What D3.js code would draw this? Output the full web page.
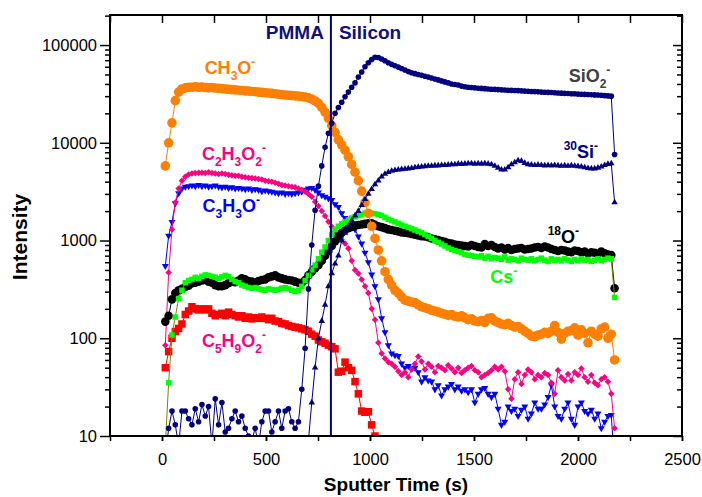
<!DOCTYPE html>
<html><head><meta charset="utf-8">
<script src="https://cdn.jsdelivr.net/npm/d3@7"></script>
<style>body{margin:0;background:#fff;} svg{display:block;font-family:"Liberation Sans",Arial,sans-serif;}</style>
</head><body><svg id="c" width="702" height="497"></svg>
<script>
// Sputter time (s)
const time = [16,32,48,64,80,96,112,128,144,160,176,192,208,224,240,256,272,288,304,320,336,352,368,384,400,416,432,448,464,480,496,512,528,544,560,576,592,608,624,640,656,672,688,704,720,736,752,768,784,800,816,832,848,864,880,896,912,928,944,960,976,992,1008,1024,1040,1056,1072,1088,1104,1120,1136,1152,1168,1184,1200,1216,1232,1248,1264,1280,1296,1312,1328,1344,1360,1376,1392,1408,1424,1440,1456,1472,1488,1504,1520,1536,1552,1568,1584,1600,1616,1632,1648,1664,1680,1696,1712,1728,1744,1760,1776,1792,1808,1824,1840,1856,1872,1888,1904,1920,1936,1952,1968,1984,2000,2016,2032,2048,2064,2080,2096,2112,2128,2144,2160,2176];

const ch3o = [5800,10000,16000,27000,33000,35500,36500,37000,37000,37500,
37000,37200,36800,36500,36800,36300,36000,35800,35500,35300,
35000,34800,34500,34300,34000,33800,33500,33300,33000,32800,
32500,32300,32000,31700,31400,31100,30800,30600,30400,30200,
30000,29800,29400,28800,28000,26800,25300,23000,20500,17800,
15000,12800,10700,9500,8400,7200,6000,5000,4100,3200,
2450,1900,1400,1050,800,620,480,400,350,310,
290,265,245,240,235,232,220,210,205,200,
193,190,185,180,176,172,175,168,165,170,
162,155,158,150,148,152,145,160,162,150,
145,140,138,142,135,130,132,125,118,112,
105,104,108,110,115,112,118,135,115,98,
112,118,120,128,108,122,112,90,118,110,
105,125,130,100,110,60];

const sio2 = [6,12,18,13,8,18,18,15,13,19,
14,21,16,20,8,24,13,22,11,12,
15,18,14,16,12,10,9,12,8,14,
18,18,11,14,18,12,18,19,14,12,
14,30,79,320,900,2040,3600,5800,9000,12500,
15800,20000,23000,26000,29500,33000,37000,41000,47000,53000,
60000,66000,71000,75000,74500,72000,69000,66000,63500,61500,
59500,57500,55500,53500,52000,51000,50000,49000,48000,47000,
46000,45000,44000,43000,42000,41000,40000,39500,39000,38000,
37500,37000,36800,36500,36200,36000,35800,35500,35300,35200,
35000,34800,34700,34500,34400,34300,34200,34000,33800,33700,
33500,33400,33200,33000,32900,32800,32700,32500,32300,32200,
32000,31900,31800,31700,31500,31400,31300,31200,31000,30900,
30800,30600,30400,30200,30000,7600];

const si30 = [null,null,null,null,null,null,null,null,null,null,
null,null,null,null,null,null,null,null,null,null,
null,null,null,null,null,null,null,null,null,null,
null,null,null,null,null,null,null,null,null,null,
null,null,3,9,22,50,100,150,220,340,
460,580,700,1000,1200,1400,1600,1800,2000,2300,
2650,3000,3350,3750,4100,4500,4800,5000,5150,5250,
5300,5350,5400,5450,5500,5600,5650,5700,5750,5800,
5800,5850,5850,5900,5900,5950,6000,6000,6100,6050,
6100,6150,6150,6100,6150,6100,6150,6100,6000,5800,
5550,5300,5300,5600,6000,6300,6600,6500,6200,6000,
5950,5900,5950,5900,5850,5900,5850,5900,5850,5800,
5850,5800,5850,5800,5750,5700,5600,5500,5450,5450,
5550,5700,5900,6050,6150,2450];

const o18 = [148,170,250,290,310,320,335,345,365,370,
380,390,395,380,370,350,340,340,350,365,
380,375,390,410,400,385,380,370,385,395,
400,420,430,440,420,410,400,395,390,380,
370,370,395,440,480,520,560,620,700,780,
880,980,1100,1200,1280,1340,1380,1420,1440,1460,
1480,1500,1500,1450,1400,1370,1340,1300,1280,1260,
1240,1210,1200,1190,1170,1150,1130,1110,1100,1080,
1050,1030,1010,990,970,940,930,910,900,890,
880,870,900,880,860,850,920,880,900,860,
830,850,810,840,800,820,830,840,810,820,
830,850,860,840,870,850,820,800,780,800,
790,770,760,790,780,760,770,740,760,750,
730,770,740,720,710,325];

const cs = [8,35,108,165,255,310,370,390,400,420,
410,430,445,440,430,420,410,425,440,430,
400,380,370,350,340,330,325,330,320,315,
310,320,315,310,315,325,330,320,310,300,
310,340,390,440,500,560,650,760,860,1000,
1150,1300,1400,1480,1550,1620,1700,1750,1800,1850,
1900,1920,1900,1880,1850,1800,1720,1650,1600,1550,
1500,1440,1400,1360,1320,1280,1240,1200,1150,1100,
1050,1000,960,920,880,840,810,790,770,750,
720,710,700,690,680,700,660,690,650,670,
660,640,680,630,650,640,620,660,640,630,
650,620,640,660,630,610,650,630,640,620,
650,630,610,640,620,650,630,640,610,630,
650,620,640,660,650,262];

const c2h3o2 = [85,470,1300,2450,3400,4100,4500,4750,4850,4900,
4950,4950,4900,5000,4900,4850,4800,4850,4800,4700,
4650,4600,4600,4500,4450,4400,4350,4300,4250,4200,
4100,4050,4000,3900,3800,3700,3650,3600,3550,3500,
3400,3300,3150,3000,2800,2500,2250,2000,1780,1560,
1380,1240,1120,1020,930,830,620,500,460,400,
340,290,200,155,90,70,62,57,55,51,
46,42,45,40,48,55,65,58,48,55,
51,45,52,50,47,53,49,45,50,44,
47,50,52,47,45,40,42,44,47,51,
48,51,46,30,24,38,45,34,42,48,
45,38,42,40,44,42,35,27,47,40,
37,43,37,45,42,49,40,36,42,35,
33,38,40,36,27,12];

const c3h3o = [550,1120,1550,2400,3050,3400,3550,3600,3650,3600,
3700,3600,3650,3550,3600,3650,3550,3500,3550,3450,
3500,3400,3450,3400,3350,3400,3300,3350,3300,3200,
3250,3200,3150,3100,3050,3100,3000,3050,3000,3050,
3100,3150,3300,3400,3450,3300,3100,2900,2800,2700,
2600,2350,2200,1900,1700,1550,1450,1300,1100,930,
750,600,450,340,250,160,115,85,70,67,
66,55,50,52,49,50,45,36,40,37,
36,30,33,26,30,32,34,30,32,29,
30,28,30,22,27,30,31,27,25,27,
19,13,14,20,18,19,16,18.5,20,15,
17,22,19,19,21,25,33,20,16,15,
19,22,15,13,20,22,18,17,18.5,15,
17,12,14,16,16.4,5];

const c5h9o2 = [50,73,100,117,126,140,175,190,210,200,
195,200,195,200,180,170,175,180,170,185,
175,170,165,170,160,165,158,162,160,165,
160,155,160,150,148,142,140,135,132,130,
128,125,122,118,110,105,96,92,89,85,
82,78,45,46,57,50,47,36,27,18,
17.5,17.7,13,10,6];

// axis ticks
const xTickLabels = [0,500,1000,1500,2000,2500];
const xTicksAll = [-250,0,250,500,750,1000,1250,1500,1750,2000,2250,2500];
const yTickLabels = [10,100,1000,10000,100000];
const boundaryTime = 812;

const svg = d3.select("#c");
const x = d3.scaleLinear().domain([-250,2500]).range([110,682]);
const y = d3.scaleLog().domain([10,203000]).range([436,15]);

const minorY = [];
[10,100,1000,10000,100000].forEach(d=>{for(let k=2;k<=9;k++){const v=d*k; if(v<=203000) minorY.push(v);}});

svg.append("clipPath").attr("id","pc").append("rect")
  .attr("x",110).attr("y",15).attr("width",572).attr("height",421);
const g = svg.append("g").attr("clip-path","url(#pc)");

const seriesDefs = [
  {vals:c5h9o2, fill:"#FF0000", stroke:"#FF0000", type:d3.symbolSquare, size:7.5*7.5, rot:0},
  {vals:c3h3o, fill:"#0000FF", stroke:"#0000FF", type:d3.symbolTriangle, size:0.433*7*7, rot:180},
  {vals:c2h3o2, fill:"#FF0080", stroke:"#FF0080", type:d3.symbolSquare, size:4.6*4.6, rot:45},
  {vals:o18, fill:"#000000", stroke:"#000000", type:d3.symbolCircle, size:Math.PI*4.3*4.3, rot:0},
  {vals:cs, fill:"#00FF00", stroke:"#808000", type:d3.symbolSquare, size:5.5*5.5, rot:0},
  {vals:ch3o, fill:"#FF8000", stroke:"#FF8000", type:d3.symbolCircle, size:Math.PI*4.8*4.8, rot:0},
  {vals:si30, fill:"#000080", stroke:"#000080", type:d3.symbolTriangle, size:0.433*6.5*6.5, rot:0},
  {vals:sio2, fill:"#000080", stroke:"#000080", type:d3.symbolCircle, size:Math.PI*2.8*2.8, rot:0}
];

seriesDefs.forEach(s=>{
  const pts = s.vals.map((v,i)=>({t:time[i], v:v})).filter(d=>d.v!=null);
  const line = d3.line().x(d=>x(d.t)).y(d=>y(d.v));
  g.append("path").attr("d",line(pts)).attr("fill","none")
    .attr("stroke",s.stroke).attr("stroke-width",1);
  const sym = d3.symbol().type(s.type).size(s.size);
  g.append("g").selectAll("path").data(pts.filter(d=>d.v>=8)).join("path")
    .attr("transform",d=>`translate(${x(d.t)},${y(d.v)})`+(s.rot?` rotate(${s.rot})`:""))
    .attr("d",sym()).attr("fill",s.fill);
});

// boundary line
svg.append("line").attr("x1",x(boundaryTime)).attr("x2",x(boundaryTime))
  .attr("y1",15).attr("y2",436).attr("stroke","#000080").attr("stroke-width",2);

// axes
const tickStyle = sel=>{sel.select(".domain").remove(); sel.selectAll("line").attr("stroke","#000").attr("stroke-width",1.5);};
svg.append("g").attr("transform","translate(110,0)")
  .call(d3.axisLeft(y).tickValues(yTickLabels).tickSize(10).tickPadding(3).tickFormat(d3.format("d")))
  .call(tickStyle)
  .selectAll("text").attr("font-size",16.5).attr("font-family","Liberation Sans, Arial").attr("fill","#000");
svg.append("g").attr("transform","translate(110,0)")
  .call(d3.axisLeft(y).tickValues(minorY).tickSize(5).tickFormat(""))
  .call(tickStyle);
svg.append("g").attr("transform","translate(682,0)")
  .call(d3.axisLeft(y).tickValues(yTickLabels).tickSize(9).tickFormat(""))
  .call(tickStyle);
svg.append("g").attr("transform","translate(682,0)")
  .call(d3.axisLeft(y).tickValues(minorY).tickSize(5).tickFormat(""))
  .call(tickStyle);
svg.append("g").attr("transform","translate(0,15)")
  .call(d3.axisBottom(x).tickValues(xTicksAll).tickSize(8).tickFormat(""))
  .call(tickStyle);
svg.append("g").attr("transform","translate(0,436)")
  .call(d3.axisBottom(x).tickValues(xTicksAll).tickSize(5).tickFormat(""))
  .call(tickStyle);
svg.append("g").attr("transform","translate(0,436)")
  .call(d3.axisBottom(x).tickValues(xTickLabels).tickSize(5).tickPadding(12).tickFormat(d3.format("d")))
  .call(tickStyle)
  .selectAll("text").attr("font-size",16.5).attr("font-family","Liberation Sans, Arial").attr("fill","#000");

svg.append("rect").attr("x",110).attr("y",15).attr("width",572).attr("height",421)
  .attr("fill","none").attr("stroke","#000").attr("stroke-width",2);

// axis titles
svg.append("text").attr("x",396).attr("y",491).attr("text-anchor","middle")
  .attr("font-size",19).attr("font-weight","bold").text("Sputter Time (s)");
svg.append("text").attr("transform","translate(27,237) rotate(-90)").attr("text-anchor","middle")
  .attr("font-size",21).attr("font-weight","bold").text("Intensity");

// region labels
svg.append("text").attr("x",x(boundaryTime)-7).attr("y",39).attr("text-anchor","end")
  .attr("font-size",19).attr("font-weight","bold").attr("fill","#101080").text("PMMA");
svg.append("text").attr("x",x(boundaryTime)+8).attr("y",39).attr("text-anchor","start")
  .attr("font-size",19).attr("font-weight","bold").attr("fill","#101080").text("Silicon");

// series labels: parts [text, kind] kind: n normal, b subscript, p superscript
const labelParts = [
  [["CH","n"],["3","b"],["O","n"],["-","p"]],
  [["C","n"],["2","b"],["H","n"],["3","b"],["O","n"],["2","b"],["-","p"]],
  [["C","n"],["3","b"],["H","n"],["3","b"],["O","n"],["-","p"]],
  [["C","n"],["5","b"],["H","n"],["9","b"],["O","n"],["2","b"],["-","p"]],
  [["SiO","n"],["2","b"],["-","p"]],
  [["30","p"],["Si","n"],["-","p"]],
  [["18","p"],["O","n"],["-","p"]],
  [["Cs","n"],["-","p"]]
];
const labelT = [205,192,195,192,1955,1931,1854,1578];
const labelV = [50500,6670,1960,82,41900,6980,942,367];
const labelColors = ["#FF8000","#FF0080","#0000FF","#FF0080","#404040","#000080","#000000","#00FF00"];

labelParts.forEach((parts,i)=>{
  const t = svg.append("text").attr("x",x(labelT[i])).attr("y",y(labelV[i]))
    .attr("font-size",18).attr("font-weight","bold").attr("fill",labelColors[i]);
  let cur = 0;
  parts.forEach(([s,k])=>{
    const target = k==="b"?6:(k==="p"?-8:0);
    t.append("tspan").attr("dy",target-cur).attr("font-size",k==="n"?18:12).text(s);
    cur = target;
  });
});
</script>
</body></html>
